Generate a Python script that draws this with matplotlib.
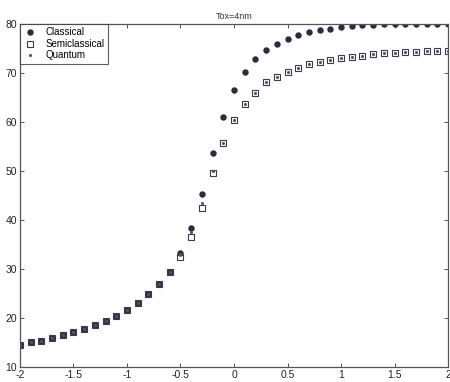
import matplotlib
matplotlib.use("Agg")
import matplotlib.pyplot as plt
import numpy as np

x_vals = [-2.0, -1.9, -1.8, -1.7, -1.6, -1.5, -1.4, -1.3, -1.2, -1.1, -1.0,
          -0.9, -0.8, -0.7, -0.6, -0.5, -0.4, -0.3, -0.2, -0.1, 0.0,
          0.1, 0.2, 0.3, 0.4, 0.5, 0.6, 0.7, 0.8, 0.9, 1.0,
          1.1, 1.2, 1.3, 1.4, 1.5, 1.6, 1.7, 1.8, 1.9, 2.0]

classical = [14.5, 15.0, 15.4, 15.9, 16.5, 17.1, 17.8, 18.6, 19.4, 20.5, 21.7,
             23.1, 24.8, 26.9, 29.4, 33.2, 38.4, 45.4, 53.6, 61.1, 66.5,
             70.3, 72.8, 74.7, 76.0, 76.9, 77.8, 78.3, 78.7, 79.0, 79.4,
             79.65, 79.8, 79.9, 79.95, 80.0, 80.0, 80.0, 80.0, 80.0, 80.0]

semiclassical = [14.5, 15.0, 15.4, 15.9, 16.5, 17.1, 17.8, 18.6, 19.4, 20.5, 21.7,
                 23.1, 24.8, 26.9, 29.4, 32.5, 36.6, 42.4, 49.6, 55.7, 60.4,
                 63.7, 66.0, 68.1, 69.2, 70.3, 71.1, 71.8, 72.3, 72.7, 73.1,
                 73.3, 73.5, 73.8, 74.0, 74.1, 74.2, 74.3, 74.4, 74.5, 74.6]

quantum = [14.5, 15.0, 15.4, 15.9, 16.5, 17.1, 17.8, 18.6, 19.4, 20.5, 21.7,
           23.1, 24.8, 26.9, 29.4, 33.0, 37.6, 43.5, 50.0, 55.8, 60.4,
           63.7, 66.0, 68.1, 69.2, 70.3, 71.1, 71.8, 72.3, 72.7, 73.1,
           73.3, 73.5, 73.8, 74.0, 74.1, 74.2, 74.3, 74.4, 74.5, 74.6]

x_ticks = [-2, -1.5, -1, -0.5, 0, 0.5, 1, 1.5, 2]
x_tick_labels = ["-2", "-1.5", "-1", "-0.5", "0", "0.5", "1", "1.5", "2"]
y_ticks = [10, 20, 30, 40, 50, 60, 70, 80]

plt.rcParams['font.family'] = ['Liberation Sans', 'DejaVu Sans']

fig = plt.figure(figsize=(4.5, 3.82), dpi=100)
ax = fig.add_axes([0.0444, 0.0393, 0.9512, 0.8977])

mc = '#2b2b3d'
ax.plot(x_vals, classical, linestyle='none', marker='o', markersize=3.6,
        color=mc, markeredgecolor=mc, label='Classical')
ax.plot(x_vals, semiclassical, linestyle='none', marker='s', markersize=4.6,
        markerfacecolor='none', markeredgecolor='#3a3a48', markeredgewidth=0.8,
        label='Semiclassical')
ax.plot(x_vals, quantum, linestyle='none', marker='.', markersize=2.5,
        color='#555566', label='Quantum')

ax.set_xlim(-2, 2)
ax.set_ylim(10, 80)
ax.set_xticks(x_ticks)
ax.set_xticklabels(x_tick_labels)
ax.set_yticks(y_ticks)
ax.tick_params(direction='in', top=True, right=True, labelsize=7.5,
               length=3, width=0.7, color='#555555', pad=2, labelcolor='#222222')
for s in ax.spines.values():
    s.set_color('#555555')
    s.set_linewidth(0.9)

ax.set_title('Tox=4nm', fontsize=6.5, pad=4, color='#333333')

leg = ax.legend(loc='upper left', fontsize=7, frameon=True, fancybox=False,
                borderaxespad=0.0, handlelength=1.4, handletextpad=0.9,
                borderpad=0.35, labelspacing=0.15)
leg.get_frame().set_edgecolor('#333344')
leg.get_frame().set_linewidth(0.8)

fig.savefig('out.png', dpi=100)
